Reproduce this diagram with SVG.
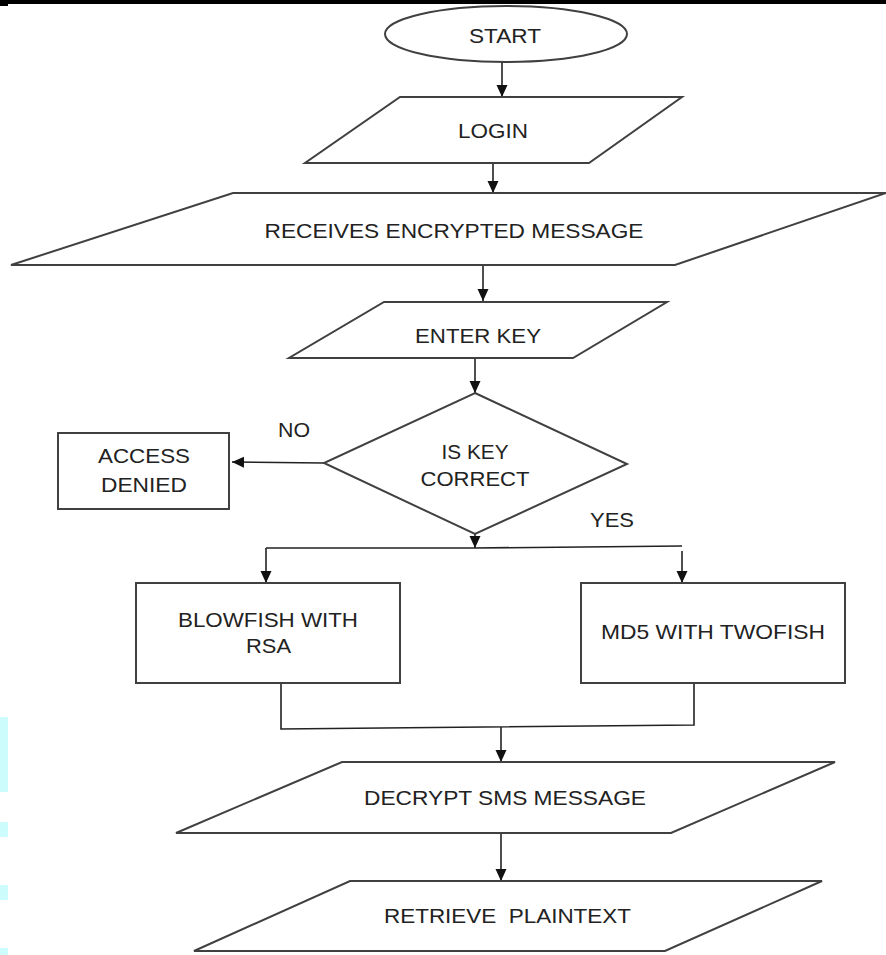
<svg xmlns="http://www.w3.org/2000/svg" width="886" height="955" viewBox="0 0 886 955">
<style>
.shape{fill:#ffffff;stroke:#404040;stroke-width:2}
.conn{fill:none;stroke:#222222;stroke-width:1.6}
.lbl{font-family:"Liberation Sans",Arial,sans-serif;font-size:21px;fill:#222222;text-anchor:middle;white-space:pre}
.mark{fill:#cdfcfc}
</style>
<defs>
<marker id="arr" markerUnits="userSpaceOnUse" markerWidth="12" markerHeight="14" viewBox="0 0 12 14" refX="12" refY="7" orient="auto">
<path d="M0,1.5 L12,7 L0,12.5 Z" fill="#111111"/>
</marker>
</defs>
<rect x="0" y="0" width="886" height="955" fill="#ffffff"/>
<rect x="0" y="0" width="886" height="4" fill="#000000"/>
<rect x="0" y="0" width="8" height="6" fill="#000000"/>
<rect class="mark" x="0" y="717" width="8" height="75"/>
<rect class="mark" x="0" y="822" width="8" height="15"/>
<rect class="mark" x="0" y="885" width="8" height="15"/>
<rect class="mark" x="0" y="948" width="8" height="7"/>

<g id="connectors">
<line class="conn" x1="502" y1="62" x2="502" y2="97" marker-end="url(#arr)"/>
<line class="conn" x1="493" y1="163" x2="493" y2="193" marker-end="url(#arr)"/>
<line class="conn" x1="483" y1="265" x2="483" y2="301" marker-end="url(#arr)"/>
<line class="conn" x1="475" y1="358" x2="475" y2="393" marker-end="url(#arr)"/>
<line class="conn" x1="324" y1="463" x2="232" y2="462" marker-end="url(#arr)"/>
<line class="conn" x1="475" y1="534" x2="475" y2="548" marker-end="url(#arr)"/>
<polyline class="conn" points="266,548 475,548 682,546"/>
<line class="conn" x1="266" y1="548" x2="266" y2="583" marker-end="url(#arr)"/>
<line class="conn" x1="682" y1="551" x2="682" y2="583" marker-end="url(#arr)"/>
<polyline class="conn" points="281,683 281,729 694,725 694,683"/>
<line class="conn" x1="501" y1="727" x2="501" y2="762" marker-end="url(#arr)"/>
<line class="conn" x1="501" y1="833" x2="501" y2="881" marker-end="url(#arr)"/>
<text class="lbl" x="294" y="437" textLength="32" lengthAdjust="spacingAndGlyphs">NO</text>
<text class="lbl" x="612" y="527" textLength="44" lengthAdjust="spacingAndGlyphs">YES</text>
</g>

<g id="start">
<ellipse class="shape" cx="506" cy="34" rx="121" ry="28"/>
<text class="lbl" x="505" y="43" textLength="72" lengthAdjust="spacingAndGlyphs">START</text>
</g>
<g id="login">
<polygon class="shape" points="400,97 682,97 589,163 305,163"/>
<text class="lbl" x="493" y="138" textLength="70" lengthAdjust="spacingAndGlyphs">LOGIN</text>
</g>
<g id="receives">
<polygon class="shape" points="233,193 886,193 675,265 11,265"/>
<text class="lbl" x="454" y="238" textLength="379" lengthAdjust="spacingAndGlyphs">RECEIVES ENCRYPTED MESSAGE</text>
</g>
<g id="enter-key">
<polygon class="shape" points="384,302 667,302 573,358 289,358"/>
<text class="lbl" x="478" y="343" textLength="126" lengthAdjust="spacingAndGlyphs">ENTER KEY</text>
</g>
<g id="is-key-correct">
<polygon class="shape" points="475,393 627,464 475,534 324,463"/>
<text class="lbl" x="475" y="459" textLength="67" lengthAdjust="spacingAndGlyphs">IS KEY</text>
<text class="lbl" x="475" y="486" textLength="109" lengthAdjust="spacingAndGlyphs">CORRECT</text>
</g>
<g id="access-denied">
<rect class="shape" x="58" y="433" width="171" height="76"/>
<text class="lbl" x="144" y="463" textLength="92" lengthAdjust="spacingAndGlyphs">ACCESS</text>
<text class="lbl" x="144" y="492" textLength="86" lengthAdjust="spacingAndGlyphs">DENIED</text>
</g>
<g id="blowfish">
<rect class="shape" x="136" y="583" width="264" height="100"/>
<text class="lbl" x="268" y="627" textLength="180" lengthAdjust="spacingAndGlyphs">BLOWFISH WITH</text>
<text class="lbl" x="268.5" y="653" textLength="45" lengthAdjust="spacingAndGlyphs">RSA</text>
</g>
<g id="md5">
<rect class="shape" x="581" y="583" width="264" height="100"/>
<text class="lbl" x="713" y="639" textLength="224" lengthAdjust="spacingAndGlyphs">MD5 WITH TWOFISH</text>
</g>
<g id="decrypt">
<polygon class="shape" points="342,762 835,762 671,833 176,833"/>
<text class="lbl" x="505" y="805" textLength="282" lengthAdjust="spacingAndGlyphs">DECRYPT SMS MESSAGE</text>
</g>
<g id="retrieve">
<polygon class="shape" points="350,881 822,881 665,951 194,951"/>
<text class="lbl" x="507.5" y="923" textLength="247" lengthAdjust="spacingAndGlyphs">RETRIEVE  PLAINTEXT</text>
</g>
</svg>
